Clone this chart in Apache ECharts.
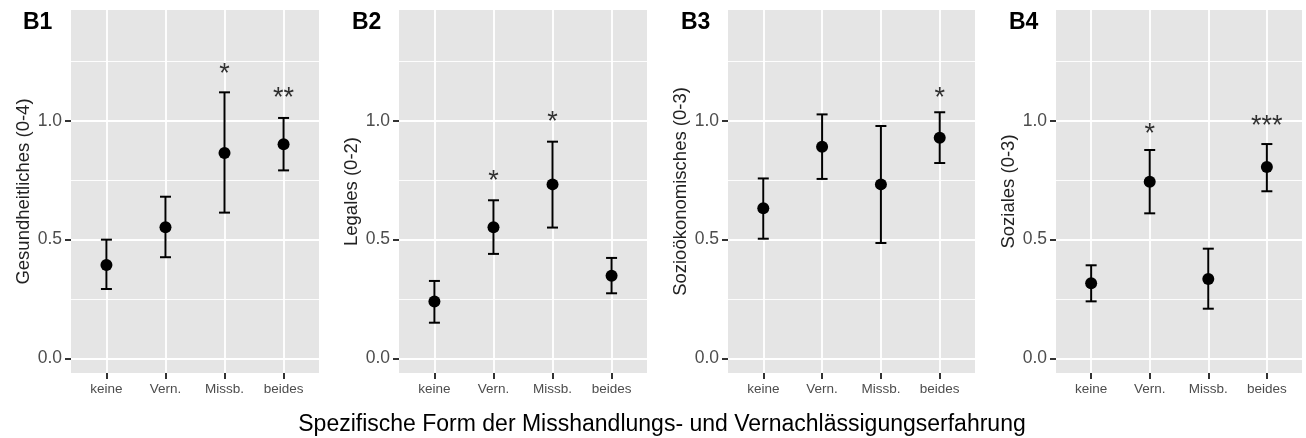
<!DOCTYPE html>
<html>
<head>
<meta charset="utf-8">
<script src="https://cdn.jsdelivr.net/npm/echarts@6/dist/echarts.min.js"></script>
<style>
  html, body { margin: 0; padding: 0; background: #fff; }
  #chart { width: 1306px; height: 438px; }
</style>
</head>
<body>
<div id="chart"></div>
<script>
// Kategorien und Beschriftungen
const categories = ['keine', 'Vern.', 'Missb.', 'beides']
const panelLabels = ['B1', 'B2', 'B3', 'B4']
const yTitles = ['Gesundheitliches (0-4)', 'Legales (0-2)', 'Sozioökonomisches (0-3)', 'Soziales (0-3)']
const yTicks = [0, 0.5, 1.0]
const yMinorTicks = [0.25, 0.75, 1.25]
const xTitle = 'Spezifische Form der Misshandlungs- und Vernachlässigungserfahrung'

// Mittelwerte und Fehlerbalken
const meanB1 = [0.393, 0.552, 0.865, 0.902]
const lowB1 = [0.292, 0.426, 0.614, 0.792]
const highB1 = [0.500, 0.681, 1.121, 1.013]
const starB1 = ['', '', '*', '**']
const starPosB1 = [null, null, 1.222, 1.119]

const meanB2 = [0.239, 0.552, 0.733, 0.348]
const lowB2 = [0.150, 0.440, 0.551, 0.274]
const highB2 = [0.326, 0.666, 0.913, 0.423]
const starB2 = ['', '*', '*', '']
const starPosB2 = [null, 0.772, 1.021, null]

const meanB3 = [0.632, 0.892, 0.733, 0.930]
const lowB3 = [0.504, 0.756, 0.486, 0.823]
const highB3 = [0.758, 1.028, 0.979, 1.037]
const starB3 = ['', '', '', '*']
const starPosB3 = [null, null, null, 1.119]

const meanB4 = [0.316, 0.744, 0.334, 0.806]
const lowB4 = [0.240, 0.611, 0.209, 0.704]
const highB4 = [0.392, 0.878, 0.462, 0.903]
const starB4 = ['', '*', '', '***']
const starPosB4 = [null, 0.969, null, 1.002]

const panels = [
  { mean: meanB1, low: lowB1, high: highB1, star: starB1, starPos: starPosB1 },
  { mean: meanB2, low: lowB2, high: highB2, star: starB2, starPos: starPosB2 },
  { mean: meanB3, low: lowB3, high: highB3, star: starB3, starPos: starPosB3 },
  { mean: meanB4, low: lowB4, high: highB4, star: starB4, starPos: starPosB4 }
]

const font = 'Liberation Sans, Arial, Helvetica, sans-serif'
const gridLefts = [71, 399, 728, 1056]
const gridWidths = [248, 248, 247, 246]
const titleLefts = [18, 347, 676, 1004]

const chart = echarts.init(document.getElementById('chart'))

const grids = []
const xAxes = []
const yAxes = []
const titles = []
const series = []

// Fehlerbalken zeichnen
const renderErrorBar = (params, api) => {
  const x = api.value(0)
  const lo = api.coord([x, api.value(1)])
  const hi = api.coord([x, api.value(2)])
  const half = 5.5
  const style = { stroke: '#000', lineWidth: 2 }
  return {
    type: 'group',
    children: [
      { type: 'line', shape: { x1: lo[0], y1: lo[1], x2: hi[0], y2: hi[1] }, style },
      { type: 'line', shape: { x1: lo[0] - half, y1: lo[1], x2: lo[0] + half, y2: lo[1] }, style },
      { type: 'line', shape: { x1: hi[0] - half, y1: hi[1], x2: hi[0] + half, y2: hi[1] }, style }
    ]
  }
}

panels.forEach((p, i) => {
  grids.push({
    left: gridLefts[i],
    width: gridWidths[i],
    top: 10,
    height: 363,
    show: true,
    backgroundColor: '#e5e5e5',
    borderWidth: 0
  })

  xAxes.push({
    type: 'value',
    gridIndex: i,
    min: 0.4,
    max: 4.6,
    axisLine: { show: false, onZero: false },
    axisTick: { show: true, length: 6, customValues: [1, 2, 3, 4], lineStyle: { color: '#333333', width: 2 } },
    axisLabel: {
      customValues: [1, 2, 3, 4],
      formatter: v => categories[Math.round(v) - 1],
      color: '#4d4d4d',
      fontSize: 13.5,
      fontFamily: font,
      margin: 9
    },
    splitLine: { show: true, lineStyle: { color: '#fff', width: 1.8 } }
  })

  // Hauptachse
  yAxes.push({
    type: 'value',
    gridIndex: i,
    min: -0.062,
    max: 1.468,
    name: yTitles[i],
    nameLocation: 'middle',
    nameGap: 38,
    nameTextStyle: { fontSize: 18.5, color: '#222', fontFamily: font },
    axisLine: { show: false, onZero: false },
    axisTick: { show: true, length: 6, customValues: yTicks, lineStyle: { color: '#333333', width: 2 } },
    axisLabel: {
      customValues: yTicks,
      formatter: v => v.toFixed(1),
      color: '#4d4d4d',
      fontSize: 17.5,
      fontFamily: font,
      margin: 9
    },
    splitLine: { show: true, lineStyle: { color: '#fff', width: 1.8 } }
  })
  // Nebenlinien
  yAxes.push({
    type: 'value',
    gridIndex: i,
    position: 'left',
    min: -0.062,
    max: 1.468,
    axisLine: { show: false, onZero: false },
    axisTick: { show: false, customValues: yMinorTicks },
    axisLabel: { show: false, customValues: yMinorTicks },
    splitLine: { show: true, lineStyle: { color: '#fff', width: 0.9 } }
  })

  titles.push({
    text: panelLabels[i],
    left: titleLefts[i],
    top: 6,
    textStyle: { fontSize: 23, fontWeight: 'bold', color: '#000', fontFamily: font }
  })

  series.push({
    type: 'custom',
    xAxisIndex: i,
    yAxisIndex: 2 * i,
    renderItem: renderErrorBar,
    data: p.mean.map((m, k) => [k + 1, p.low[k], p.high[k]]),
    z: 3
  })
  series.push({
    type: 'scatter',
    xAxisIndex: i,
    yAxisIndex: 2 * i,
    symbolSize: 12,
    itemStyle: { color: '#000', opacity: 1 },
    data: p.mean.map((m, k) => [k + 1, m]),
    z: 4
  })
  series.push({
    type: 'scatter',
    xAxisIndex: i,
    yAxisIndex: 2 * i,
    symbolSize: 0,
    label: {
      show: true,
      position: 'inside',
      formatter: d => d.name,
      fontSize: 27,
      color: '#000',
      fontFamily: font,
      offset: [0, 6]
    },
    data: p.star
      .map((s, k) => (s ? { name: s, value: [k + 1, p.starPos[k]] } : null))
      .filter(d => d !== null),
    z: 5
  })
})

titles.push({
  text: xTitle,
  left: 657,
  textAlign: 'center',
  top: 408,
  textStyle: { fontSize: 23, fontWeight: 'normal', color: '#000', fontFamily: font }
})

chart.setOption({
  animation: false,
  title: titles,
  grid: grids,
  xAxis: xAxes,
  yAxis: yAxes,
  series: series
})
</script>
</body>
</html>
